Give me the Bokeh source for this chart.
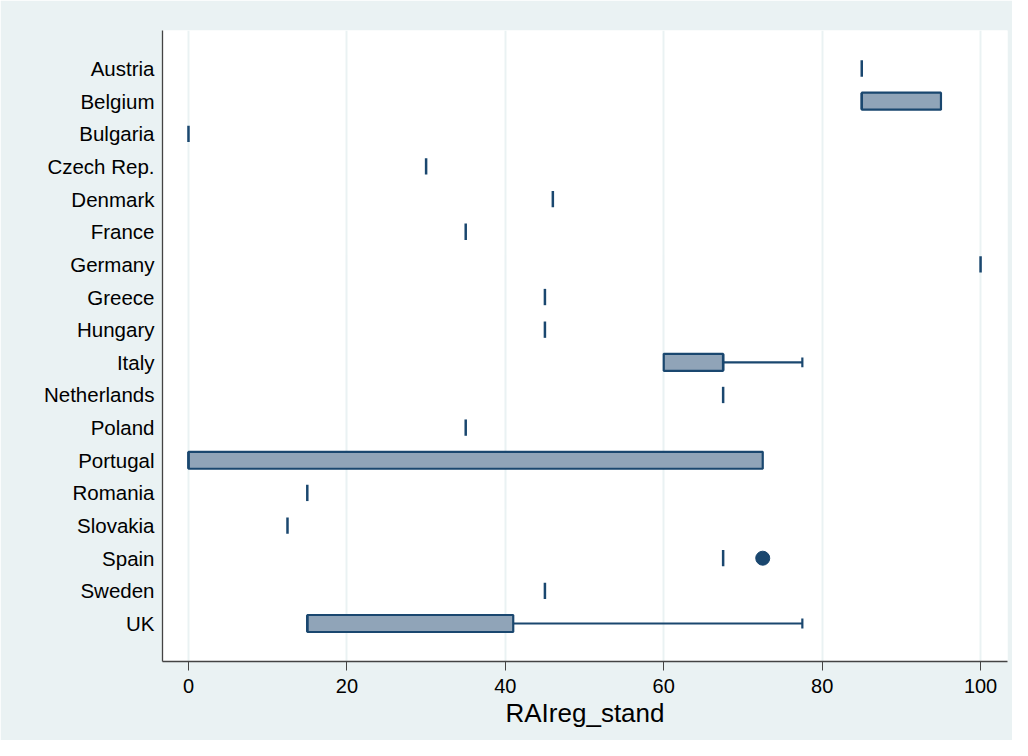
from bokeh.plotting import figure
from bokeh.models import Range1d, FixedTicker
from bokeh.embed import file_html
from bokeh.resources import INLINE

countries = ["Austria", "Belgium", "Bulgaria", "Czech Rep.", "Denmark", "France",
             "Germany", "Greece", "Hungary", "Italy", "Netherlands", "Poland",
             "Portugal", "Romania", "Slovakia", "Spain", "Sweden", "UK"]
q1 =     [85, 85, 0, 30, 46, 35, 100, 45, 45, 60,   67.5, 35, 0,    15, 12.5, 67.5, 45, 15]
median = [85, 85, 0, 30, 46, 35, 100, 45, 45, 67.5, 67.5, 35, 0,    15, 12.5, 67.5, 45, 15]
q3 =     [85, 95, 0, 30, 46, 35, 100, 45, 45, 67.5, 67.5, 35, 72.5, 15, 12.5, 67.5, 45, 41]
upper =  [85, 95, 0, 30, 46, 35, 100, 45, 45, 77.5, 67.5, 35, 72.5, 15, 12.5, 67.5, 45, 77.5]
outlier_country = ["Spain"]
outlier_value = [72.5]
x_ticks = [0, 20, 40, 60, 80, 100]
x_title = "RAIreg_stand"

NAVY = "#1a476f"
FILL = "#90a4b8"
BG = "#eaf2f3"
FONT = "Liberation Sans"

rows = list(range(len(countries)))
pad = 1.164

p = figure(width=1012, height=740, output_backend="svg", toolbar_location=None,
           x_range=Range1d(-3.28, 103.4),
           y_range=Range1d(len(countries) - 1 + pad, -pad),
           min_border_left=162, min_border_right=5, min_border_top=30, min_border_bottom=79)
p.background_fill_color = "white"
p.border_fill_color = BG
p.outline_line_color = None

# boxes
bl, br, by = [], [], []
for i in rows:
    if q3[i] > q1[i]:
        bl.append(q1[i]); br.append(q3[i]); by.append(i)
p.quad(left=bl, right=br, bottom=[y - 0.26 for y in by], top=[y + 0.26 for y in by],
       fill_color=FILL, line_color=NAVY, line_width=2.2)

# whiskers
wx0, wx1, wy = [], [], []
for i in rows:
    if upper[i] > q3[i]:
        wx0.append(q3[i]); wx1.append(upper[i]); wy.append(i)
p.segment(x0=wx0, y0=wy, x1=wx1, y1=wy, line_color=NAVY, line_width=2.2)
p.segment(x0=wx1, y0=[y - 0.15 for y in wy], x1=wx1, y1=[y + 0.15 for y in wy],
          line_color=NAVY, line_width=2.2)

# medians
p.segment(x0=median, y0=[y - 0.25 for y in rows], x1=median, y1=[y + 0.25 for y in rows],
          line_color=NAVY, line_width=2.5)

# outliers
oy = [countries.index(c) for c in outlier_country]
p.scatter(x=outlier_value, y=oy, size=14, fill_color=NAVY, line_color=NAVY)

# axes
p.xaxis.ticker = FixedTicker(ticks=x_ticks)
p.xgrid.ticker = FixedTicker(ticks=x_ticks)
p.xgrid.grid_line_color = BG
p.xgrid.grid_line_width = 2
p.ygrid.grid_line_color = None
p.xaxis.axis_label = x_title
p.xaxis.axis_label_text_font = FONT
p.xaxis.axis_label_text_font_size = "26px"
p.xaxis.axis_label_text_font_style = "normal"
p.xaxis.axis_label_text_color = "black"
p.xaxis.axis_label_standoff = 2
p.xaxis.major_label_text_font = FONT
p.xaxis.major_label_text_font_size = "20px"
p.xaxis.major_label_text_color = "black"
p.xaxis.major_label_standoff = 8
p.xaxis.major_tick_out = 9
p.xaxis.major_tick_in = 0
p.xaxis.minor_tick_line_color = None
p.xaxis.axis_line_color = "#444444"
p.xaxis.major_tick_line_color = "#444444"
p.xaxis.axis_line_width = 1.3

p.yaxis.ticker = FixedTicker(ticks=rows)
p.yaxis.major_label_overrides = {i: c for i, c in enumerate(countries)}
p.yaxis.major_label_text_font = FONT
p.yaxis.major_label_text_font_size = "20.5px"
p.yaxis.major_label_text_color = "black"
p.yaxis.major_label_standoff = 8
p.yaxis.major_tick_line_color = None
p.yaxis.major_tick_out = 0
p.yaxis.major_tick_in = 0
p.yaxis.minor_tick_line_color = None
p.yaxis.axis_line_color = "#444444"
p.yaxis.axis_line_width = 1.3

open("out.html", "w").write(file_html(p, INLINE))
